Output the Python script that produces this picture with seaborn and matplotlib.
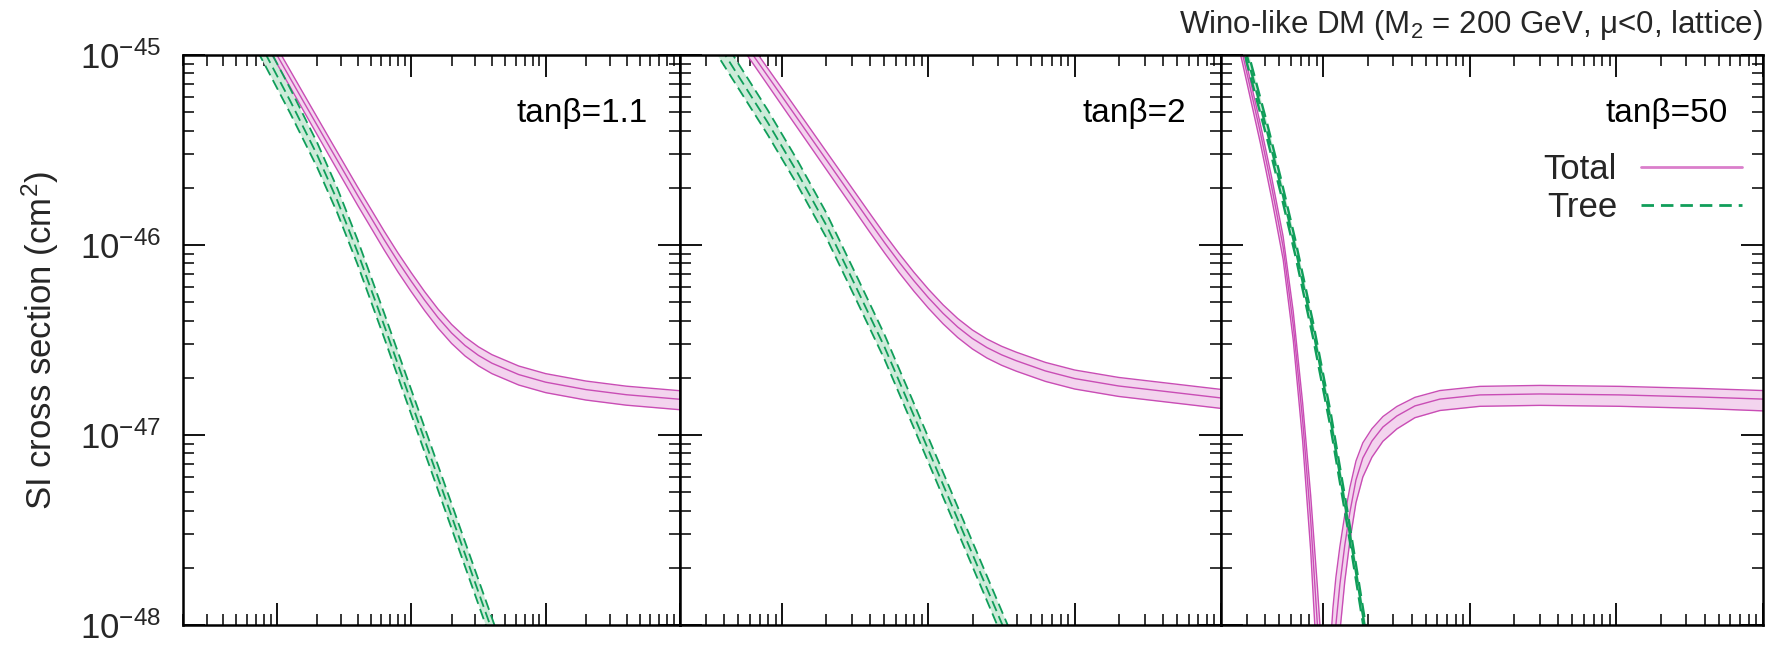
import numpy as np
import matplotlib
matplotlib.use("Agg")
import matplotlib.pyplot as plt
from matplotlib.ticker import LogLocator, NullFormatter, FixedLocator
from matplotlib.lines import Line2D
import seaborn as sns

# ---------------- data (log10 of mass scale, log10 of sigma_SI in cm^2) ----------------
panel_labels = ["tan\u03b2=1.1", "tan\u03b2=2", "tan\u03b2=50"]

# Panel 1: tan(beta) = 1.1
p1_total_lx = [2.90, 3.00, 3.20, 3.40, 3.60, 3.80, 3.90, 4.00, 4.10, 4.20, 4.30, 4.40, 4.50, 4.60, 4.80, 5.00, 5.30, 5.60, 6.00]
p1_total_c  = [-44.876, -45.000, -45.248, -45.494, -45.738, -45.974, -46.086, -46.191, -46.291, -46.383, -46.463, -46.529, -46.581, -46.622, -46.682, -46.722, -46.761, -46.788, -46.812]
p1_total_hi = [-44.836, -44.960, -45.206, -45.451, -45.694, -45.929, -46.041, -46.146, -46.246, -46.338, -46.418, -46.484, -46.536, -46.577, -46.637, -46.677, -46.716, -46.743, -46.767]
p1_total_lo = [-44.921, -45.045, -45.296, -45.544, -45.790, -46.028, -46.141, -46.246, -46.346, -46.438, -46.518, -46.584, -46.636, -46.677, -46.737, -46.777, -46.816, -46.843, -46.867]
p1_tree_lx = [2.80, 2.92, 3.10, 3.30, 3.45, 3.60, 3.80, 4.00, 4.20, 4.40, 4.60, 4.72]
p1_tree_c  = [-44.840, -45.000, -45.243, -45.527, -45.767, -46.037, -46.427, -46.827, -47.227, -47.627, -48.027, -48.267]
p1_tree_hi = [-44.775, -44.935, -45.178, -45.462, -45.702, -45.972, -46.362, -46.762, -47.162, -47.562, -47.962, -48.202]
p1_tree_lo = [-44.905, -45.065, -45.308, -45.592, -45.832, -46.102, -46.492, -46.892, -47.292, -47.692, -48.092, -48.332]

# Panel 2: tan(beta) = 2
p2_total_lx = [2.70, 2.80, 3.00, 3.20, 3.40, 3.60, 3.70, 3.80, 3.90, 4.00, 4.10, 4.20, 4.30, 4.40, 4.50, 4.60, 4.80, 5.00, 5.30, 5.60, 6.00]
p2_total_c  = [-44.890, -45.000, -45.220, -45.440, -45.660, -45.880, -45.988, -46.091, -46.188, -46.278, -46.360, -46.432, -46.492, -46.540, -46.578, -46.609, -46.663, -46.703, -46.742, -46.769, -46.805]
p2_total_hi = [-44.850, -44.960, -45.178, -45.397, -45.616, -45.835, -45.943, -46.046, -46.143, -46.233, -46.315, -46.387, -46.447, -46.495, -46.533, -46.564, -46.618, -46.658, -46.697, -46.724, -46.760]
p2_total_lo = [-44.935, -45.045, -45.268, -45.490, -45.712, -45.934, -46.042, -46.146, -46.243, -46.333, -46.415, -46.487, -46.547, -46.595, -46.633, -46.664, -46.718, -46.758, -46.797, -46.824, -46.860]
p2_tree_lx = [2.52, 2.61, 2.90, 3.10, 3.30, 3.50, 3.70, 3.90, 4.10, 4.30, 4.50, 4.60]
p2_tree_c  = [-44.890, -45.000, -45.354, -45.614, -45.894, -46.214, -46.538, -46.898, -47.262, -47.626, -47.990, -48.172]
p2_tree_hi = [-44.825, -44.935, -45.289, -45.549, -45.829, -46.149, -46.473, -46.833, -47.197, -47.561, -47.925, -48.107]
p2_tree_lo = [-44.955, -45.065, -45.419, -45.679, -45.959, -46.279, -46.603, -46.963, -47.327, -47.691, -48.055, -48.237]

# Panel 3: tan(beta) = 50  (total has a cancellation dip -> two branches)
p3_totalA_lx = [2.410, 2.450, 2.570, 2.647, 2.725, 2.794, 2.858, 2.913, 2.959, 2.978, 2.990]
p3_totalA_c  = [-44.870, -45.000, -45.410, -45.695, -46.010, -46.420, -46.920, -47.447, -48.000, -48.300, -48.600]
p3_totalA_hi = [-44.830, -44.960, -45.365, -45.645, -45.955, -46.350, -46.830, -47.317, -47.800, -48.020, -48.250]
p3_totalA_lo = [-44.915, -45.050, -45.465, -45.755, -46.075, -46.500, -47.030, -47.607, -48.250, -48.650, -49.000]
p3_totalB_lx = [3.040, 3.065, 3.085, 3.112, 3.146, 3.181, 3.222, 3.269, 3.331, 3.406, 3.501, 3.624, 3.795, 4.068, 4.477, 5.024, 5.570, 6.000]
p3_totalB_c  = [-48.600, -48.210, -48.000, -47.789, -47.579, -47.405, -47.237, -47.121, -47.032, -46.958, -46.900, -46.847, -46.811, -46.789, -46.784, -46.789, -46.800, -46.811]
p3_totalB_hi = [-48.200, -47.910, -47.750, -47.589, -47.419, -47.275, -47.137, -47.041, -46.967, -46.903, -46.850, -46.802, -46.766, -46.744, -46.739, -46.744, -46.755, -46.766]
p3_totalB_lo = [-49.100, -48.610, -48.320, -48.039, -47.769, -47.555, -47.357, -47.221, -47.117, -47.033, -46.968, -46.909, -46.871, -46.849, -46.844, -46.849, -46.860, -46.873]
p3_tree_lx = [2.440, 2.477, 2.619, 2.711, 2.807, 2.929, 3.049, 3.165, 3.280, 3.310]
p3_tree_c  = [-44.860, -45.000, -45.410, -45.695, -46.010, -46.447, -46.921, -47.447, -48.000, -48.150]
p3_tree_hi = [-44.820, -44.960, -45.370, -45.655, -45.970, -46.407, -46.881, -47.407, -47.960, -48.110]
p3_tree_lo = [-44.900, -45.040, -45.450, -45.735, -46.050, -46.487, -46.961, -47.487, -48.040, -48.190]

y_major_ticks = [1e-48, 1e-47, 1e-46, 1e-45]
x_major_ticks = [1e3, 1e4, 1e5, 1e6]

title_text = "Wino-like DM (M$_2$ = 200 GeV, \u03bc<0, lattice)"
ylabel_text = "SI cross section (cm$^2$)"
legend_labels = ["Total", "Tree"]

# ---------------- style ----------------
sns.set_theme(style="ticks")
plt.rcParams["font.family"] = ["Liberation Sans", "DejaVu Sans"]
plt.rcParams["mathtext.fontset"] = "custom"
plt.rcParams["mathtext.rm"] = "Liberation Sans"
plt.rcParams["mathtext.it"] = "Liberation Sans:italic"
plt.rcParams["mathtext.default"] = "regular"
plt.rcParams["axes.unicode_minus"] = False

MAG = "#C94DB5"
MAG_FILL = "#F3D4EE"
GRN = "#109E5A"
GRN_FILL = "#CDEBD9"

W, H = 1791, 647
fig = plt.figure(figsize=(W / 100, H / 100), dpi=100)
top_px, bot_px = 55, 625
lefts = [183, 680, 1221]
rights = [680, 1221, 1763]
axes = []
for l, r in zip(lefts, rights):
    ax = fig.add_axes([l / W, (H - bot_px) / H, (r - l) / W, (bot_px - top_px) / H])
    axes.append(ax)


def tp(v):
    return np.power(10.0, np.asarray(v, dtype=float))


def band(ax, lx, c, hi, lo, color, fill, dashed=False, lw=1.0):
    x = tp(lx)
    ax.fill_between(x, tp(lo), tp(hi), color=fill, lw=0, zorder=1)
    ls = (0, (6, 3)) if dashed else "-"
    for yy in (hi, c, lo):
        sns.lineplot(x=x, y=tp(yy), ax=ax, color=color, lw=lw, linestyle=ls,
                     sort=False, estimator=None, zorder=2)


panels = [
    [(p1_total_lx, p1_total_c, p1_total_hi, p1_total_lo)],
    [(p2_total_lx, p2_total_c, p2_total_hi, p2_total_lo)],
    [(p3_totalA_lx, p3_totalA_c, p3_totalA_hi, p3_totalA_lo),
     (p3_totalB_lx, p3_totalB_c, p3_totalB_hi, p3_totalB_lo)],
]
trees = [
    (p1_tree_lx, p1_tree_c, p1_tree_hi, p1_tree_lo),
    (p2_tree_lx, p2_tree_c, p2_tree_hi, p2_tree_lo),
    (p3_tree_lx, p3_tree_c, p3_tree_hi, p3_tree_lo),
]

for i, ax in enumerate(axes):
    for seg in panels[i]:
        band(ax, *seg, color=MAG, fill=MAG_FILL, lw=1.0)
    band(ax, *trees[i], color=GRN, fill=GRN_FILL, dashed=True, lw=1.3 if i < 2 else 1.7)

    ax.set_xscale("log")
    ax.set_yscale("log")
    ax.set_xlim(200, 1e6)
    ax.set_ylim(1e-48, 1e-45)
    ax.xaxis.set_major_locator(FixedLocator(x_major_ticks))
    ax.xaxis.set_minor_locator(LogLocator(base=10, subs=np.arange(2, 10), numticks=50))
    ax.yaxis.set_major_locator(FixedLocator(y_major_ticks))
    ax.yaxis.set_minor_locator(LogLocator(base=10, subs=np.arange(2, 10), numticks=50))
    ax.xaxis.set_minor_formatter(NullFormatter())
    ax.yaxis.set_minor_formatter(NullFormatter())
    ax.yaxis.set_major_formatter(matplotlib.ticker.FuncFormatter(
        lambda v, p: "10$^{%d}$" % int(round(np.log10(v)))))
    ax.tick_params(which="both", direction="in", top=True, right=True,
                   labelbottom=False, color="black")
    ax.tick_params(which="major", length=16, width=1.3)
    ax.tick_params(which="minor", length=8, width=1.1)
    ax.tick_params(axis="y", labelsize=25, pad=16)
    if i > 0:
        ax.tick_params(axis="y", labelleft=False)
    for sp in ax.spines.values():
        sp.set_linewidth(1.8)
        sp.set_color("black")
    ax.set_xlabel("")
    ax.set_ylabel("")
    ax.text(0.935, 0.898, panel_labels[i], transform=ax.transAxes, ha="right",
            va="center", fontsize=24, color="black")

# legend in third panel
handles = [Line2D([], [], color="#DA7ECB", lw=2.0),
           Line2D([], [], color=GRN, lw=2.0, linestyle=(0, (4.5, 2.5)))]
axes[2].legend(handles, legend_labels, loc="upper right", frameon=False,
               markerfirst=False, fontsize=25, handlelength=2.9, handletextpad=0.7,
               labelspacing=0.15, borderpad=0, borderaxespad=0,
               bbox_to_anchor=((1742 - 1221) / 542, (625 - 153) / 570))

fig.text(1763 / W, 1 - 25 / H, title_text, ha="right", va="center", fontsize=22.5)
fig.text(40 / W, 1 - 340 / H, ylabel_text, ha="center", va="center", rotation=90,
         fontsize=25)

fig.savefig("out.png", dpi=100)
